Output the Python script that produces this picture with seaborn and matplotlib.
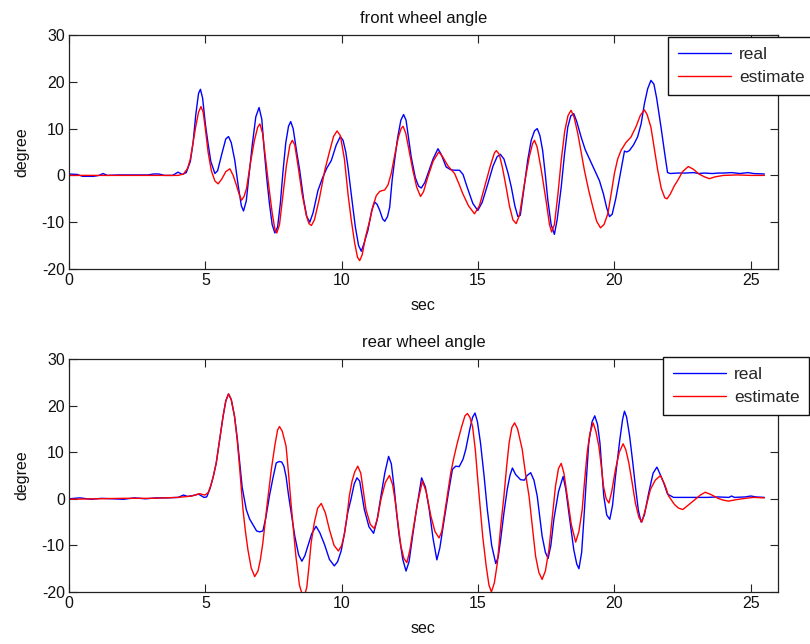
import numpy as np
import pandas as pd
import matplotlib
matplotlib.use("Agg")
import matplotlib.pyplot as plt
import seaborn as sns
from matplotlib.lines import Line2D

# ---- front wheel angle (time in s, angle in degree) ----
front_real = [
    (0, 0.3), (0.3, 0.2), (0.5, -0.2), (0.9, -0.2), (1.1, 0.0), (1.25, 0.4), (1.4, 0.0),
    (1.8, 0.1), (2.5, 0.1), (2.9, 0.1), (3.1, 0.3), (3.3, 0.3), (3.5, 0.0), (3.8, 0.0),
    (4.0, 0.7), (4.15, 0.2), (4.3, 0.6), (4.45, 3.0), (4.55, 7.0), (4.65, 13.0), (4.75, 17.5),
    (4.82, 18.4), (4.9, 16.5), (5.0, 11.0), (5.1, 6.8), (5.2, 3.0), (5.35, 0.4), (5.45, 1.0),
    (5.6, 4.5), (5.75, 7.8), (5.85, 8.3), (5.95, 7.0), (6.08, 3.2), (6.2, -2.0), (6.32, -6.5),
    (6.4, -7.6), (6.5, -5.5), (6.6, 0.0), (6.72, 6.5), (6.85, 12.5), (6.97, 14.5), (7.07, 12.0),
    (7.15, 6.0), (7.25, -0.5), (7.35, -6.0), (7.45, -10.5), (7.55, -12.3), (7.65, -11.0),
    (7.75, -6.0), (7.85, 1.0), (7.95, 7.0), (8.05, 10.5), (8.13, 11.5), (8.22, 10.0), (8.35, 5.0),
    (8.46, 1.1), (8.6, -5.0), (8.72, -8.8), (8.83, -10.0), (8.95, -8.0), (9.13, -3.2), (9.3, -0.5),
    (9.45, 1.5), (9.62, 3.2), (9.8, 6.5), (9.95, 8.3), (10.05, 7.5), (10.15, 5.0), (10.23, 1.8),
    (10.35, -4.0), (10.5, -11.0), (10.62, -15.0), (10.72, -16.2), (10.82, -14.5), (10.96, -11.8),
    (11.1, -7.5), (11.21, -5.7), (11.3, -6.2), (11.39, -7.4), (11.5, -9.3), (11.58, -9.8),
    (11.68, -8.8), (11.76, -6.8), (11.85, -1.0), (11.94, 3.2), (12.05, 8.0), (12.17, 11.8),
    (12.27, 13.0), (12.36, 11.8), (12.45, 8.0), (12.55, 3.9), (12.7, -0.5), (12.82, -2.3),
    (12.92, -2.7), (13.05, -1.5), (13.2, 1.0), (13.35, 3.5), (13.53, 5.7), (13.65, 4.5),
    (13.83, 1.8), (14.0, 1.2), (14.15, 1.1), (14.32, 1.1), (14.45, 0.2), (14.6, -2.5),
    (14.81, -6.0), (14.99, -7.5), (15.15, -5.8), (15.36, -1.8), (15.55, 2.0), (15.7, 4.0),
    (15.82, 4.5), (15.95, 3.5), (16.1, 0.5), (16.22, -2.5), (16.35, -6.5), (16.46, -8.8),
    (16.55, -8.5), (16.68, -3.0), (16.82, 3.2), (16.95, 7.5), (17.07, 9.5), (17.17, 10.0),
    (17.27, 8.5), (17.37, 5.3), (17.47, 0.0), (17.56, -5.3), (17.68, -10.5), (17.8, -12.6),
    (17.9, -9.5), (18.05, -2.5), (18.17, 4.5), (18.29, 10.3), (18.4, 12.7), (18.51, 13.2),
    (18.62, 11.5), (18.78, 8.2), (18.93, 5.5), (19.08, 3.6), (19.25, 1.5), (19.45, -1.1),
    (19.6, -4.0), (19.72, -7.0), (19.82, -8.8), (19.92, -8.3), (20.05, -5.0), (20.24, 1.1),
    (20.37, 5.2), (20.45, 5.0), (20.55, 5.3), (20.7, 6.5), (20.85, 8.2), (20.98, 11.0),
    (21.1, 15.3), (21.22, 18.5), (21.34, 20.3), (21.45, 19.5), (21.55, 16.5), (21.71, 10.3),
    (21.85, 4.5), (21.95, 0.6), (22.05, 0.4), (22.3, 0.5), (22.6, 0.5), (22.9, 0.6), (23.1, 0.4),
    (23.3, 0.5), (23.6, 0.4), (23.8, 0.5), (24.0, 0.5), (24.3, 0.6), (24.6, 0.4), (24.9, 0.6),
    (25.1, 0.4), (25.5, 0.3),
]

front_estimate = [
    (0, 0.0), (4.0, 0.0), (4.2, 0.3), (4.35, 1.5), (4.45, 3.5), (4.55, 7.0), (4.65, 10.5),
    (4.75, 13.5), (4.84, 14.7), (4.92, 13.5), (5.0, 10.0), (5.1, 5.0), (5.22, 1.0), (5.35, -1.2),
    (5.47, -1.8), (5.6, -0.8), (5.75, 0.8), (5.9, 1.4), (6.02, 0.0), (6.14, -2.1), (6.25, -4.2),
    (6.33, -5.3), (6.42, -4.5), (6.51, -2.8), (6.65, 2.5), (6.8, 7.5), (6.92, 10.3), (7.0, 11.0),
    (7.1, 9.0), (7.2, 4.0), (7.32, -2.0), (7.45, -8.0), (7.55, -11.5), (7.62, -12.3),
    (7.72, -10.5), (7.85, -4.0), (7.97, 2.0), (8.1, 6.5), (8.19, 7.5), (8.28, 6.5), (8.4, 2.0),
    (8.55, -4.0), (8.7, -8.5), (8.8, -10.3), (8.89, -10.7), (9.0, -9.5), (9.18, -5.0),
    (9.38, 1.1), (9.55, 5.0), (9.7, 8.3), (9.83, 9.5), (9.95, 8.5), (10.1, 3.5), (10.23, -3.9),
    (10.35, -9.5), (10.48, -14.6), (10.58, -17.5), (10.66, -18.2), (10.75, -17.0),
    (10.88, -13.0), (11.03, -9.6), (11.15, -6.5), (11.27, -4.3), (11.4, -3.4), (11.58, -3.1),
    (11.7, -2.0), (11.82, 0.5), (11.95, 4.5), (12.08, 8.2), (12.18, 10.0), (12.25, 10.5),
    (12.35, 9.0), (12.48, 5.0), (12.61, 1.1), (12.75, -2.5), (12.89, -4.5), (13.0, -3.5),
    (13.15, -0.5), (13.35, 3.0), (13.56, 5.0), (13.7, 4.0), (13.9, 2.0), (14.14, 0.4),
    (14.3, -1.8), (14.44, -3.9), (14.65, -6.5), (14.87, -8.2), (15.05, -6.5), (15.24, -2.5),
    (15.45, 2.0), (15.6, 4.8), (15.67, 5.3), (15.78, 4.5), (15.9, 1.5), (16.03, -2.5),
    (16.15, -6.5), (16.28, -9.5), (16.4, -10.3), (16.52, -8.5), (16.7, -1.8), (16.88, 4.0),
    (17.0, 6.8), (17.07, 7.5), (17.17, 6.0), (17.32, 1.1), (17.5, -5.6), (17.62, -10.5),
    (17.7, -12.1), (17.8, -10.5), (17.93, -4.0), (18.05, 3.2), (18.18, 9.5), (18.3, 12.8),
    (18.41, 13.9), (18.52, 12.5), (18.66, 8.9), (18.78, 5.0), (18.9, 1.1), (19.05, -3.0),
    (19.21, -6.8), (19.35, -9.8), (19.49, -11.2), (19.62, -10.5), (19.76, -8.2), (19.88, -4.0),
    (20.0, 0.4), (20.12, 3.5), (20.24, 5.3), (20.42, 7.0), (20.61, 8.2), (20.8, 10.5),
    (20.95, 12.8), (21.1, 14.0), (21.2, 13.0), (21.34, 10.3), (21.47, 5.5), (21.59, 1.1),
    (21.72, -2.8), (21.85, -4.8), (21.93, -5.0), (22.05, -4.0), (22.2, -2.2), (22.32, -1.1),
    (22.5, 0.8), (22.71, 1.9), (22.9, 1.3), (23.1, 0.3), (23.3, -0.3), (23.48, -0.7),
    (23.7, -0.3), (24.0, 0.0), (24.5, 0.1), (25.0, 0.0), (25.5, 0.0),
]

# ---- rear wheel angle (time in s, angle in degree) ----
rear_real = [
    (0, 0.0), (0.4, 0.2), (0.8, -0.1), (1.2, 0.1), (1.6, 0.0), (2.0, -0.1), (2.4, 0.2),
    (2.8, 0.0), (3.2, 0.2), (3.6, 0.2), (4.0, 0.3), (4.2, 0.8), (4.35, 0.5), (4.55, 0.7),
    (4.75, 1.0), (4.95, 0.3), (5.05, 0.4), (5.16, 2.0), (5.28, 4.5), (5.4, 7.7), (5.52, 12.5),
    (5.65, 17.7), (5.75, 21.0), (5.85, 22.5), (5.95, 21.3), (6.07, 17.7), (6.17, 13.0),
    (6.26, 7.7), (6.35, 2.5), (6.5, -2.3), (6.62, -4.3), (6.74, -5.5), (6.88, -6.9),
    (6.99, -7.1), (7.11, -6.9), (7.22, -4.0), (7.35, 0.6), (7.48, 4.5), (7.6, 7.7), (7.7, 8.0),
    (7.8, 7.9), (7.88, 7.0), (7.96, 4.8), (8.05, 0.8), (8.15, -3.0), (8.28, -8.0), (8.42, -12.0),
    (8.54, -13.4), (8.65, -12.2), (8.76, -10.1), (8.9, -7.5), (9.06, -5.9), (9.2, -7.3),
    (9.37, -9.8), (9.55, -13.0), (9.73, -14.4), (9.85, -13.5), (9.98, -11.2), (10.1, -7.5),
    (10.22, -3.0), (10.34, -0.1), (10.46, 3.2), (10.56, 4.5), (10.66, 3.8), (10.83, -2.3),
    (11.0, -6.0), (11.17, -7.4), (11.3, -4.5), (11.44, 0.6), (11.58, 5.5), (11.72, 9.1),
    (11.82, 7.5), (11.93, 2.0), (12.02, -3.5), (12.11, -8.0), (12.24, -13.0), (12.36, -15.5),
    (12.47, -13.5), (12.6, -8.0), (12.75, -2.0), (12.93, 4.5), (13.07, 2.5), (13.21, -2.3),
    (13.35, -8.5), (13.49, -13.1), (13.6, -10.5), (13.76, -4.4), (13.92, 1.5), (14.06, 6.3),
    (14.18, 7.0), (14.31, 6.9), (14.45, 8.5), (14.55, 10.6), (14.7, 15.0), (14.8, 17.5),
    (14.89, 18.4), (14.98, 16.5), (15.09, 12.0), (15.22, 5.0), (15.34, -2.3), (15.5, -10.0),
    (15.65, -13.9), (15.74, -12.5), (15.83, -8.7), (15.95, -3.0), (16.07, 2.0), (16.17, 5.0),
    (16.26, 6.6), (16.38, 5.2), (16.56, 4.1), (16.7, 4.0), (16.8, 5.0), (16.93, 5.6),
    (17.05, 4.0), (17.17, 0.6), (17.35, -8.0), (17.47, -11.5), (17.57, -12.8), (17.67, -10.0),
    (17.78, -4.4), (17.95, 1.5), (18.12, 4.8), (18.22, 2.0), (18.33, -3.0), (18.51, -10.9),
    (18.62, -14.0), (18.7, -15.0), (18.8, -11.5), (18.88, -4.4), (18.97, 4.0), (19.06, 12.0),
    (19.18, 16.5), (19.28, 17.8), (19.38, 16.0), (19.47, 12.0), (19.61, 0.6), (19.72, -3.5),
    (19.83, -4.4), (19.93, -1.5), (20.04, 4.8), (20.2, 12.7), (20.3, 17.0), (20.37, 18.8),
    (20.45, 17.5), (20.56, 13.4), (20.67, 8.0), (20.77, 2.7), (20.88, -2.5), (20.98, -5.0),
    (21.1, -3.5), (21.26, 1.3), (21.42, 5.5), (21.56, 6.8), (21.66, 5.5), (21.81, 3.4),
    (21.95, 1.0), (22.17, 0.3), (22.6, 0.3), (23.0, 0.3), (23.4, 0.3), (23.8, 0.4), (24.2, 0.3),
    (24.3, 0.6), (24.4, 0.3), (24.8, 0.4), (25.0, 0.6), (25.2, 0.4), (25.5, 0.3),
]

rear_estimate = [
    (0, -0.1), (1.0, 0.0), (2.0, 0.1), (3.0, 0.1), (4.0, 0.3), (4.5, 0.6), (4.79, 1.1),
    (4.98, 0.8), (5.1, 1.3), (5.2, 2.8), (5.3, 5.0), (5.4, 7.7), (5.52, 12.5), (5.65, 17.7),
    (5.75, 21.0), (5.85, 22.5), (5.95, 21.3), (6.07, 17.7), (6.17, 12.5), (6.26, 6.5),
    (6.38, -2.3), (6.47, -7.0), (6.56, -10.9), (6.68, -14.8), (6.81, -16.7), (6.93, -15.5),
    (7.02, -13.0), (7.11, -9.4), (7.25, -2.0), (7.42, 6.3), (7.55, 11.5), (7.65, 14.8),
    (7.72, 15.5), (7.82, 14.5), (7.96, 11.3), (8.05, 5.5), (8.14, -0.9), (8.23, -6.5),
    (8.32, -12.3), (8.45, -18.5), (8.6, -21.5), (8.72, -19.0), (8.8, -14.5), (8.88, -9.4),
    (9.0, -5.0), (9.12, -2.0), (9.25, -1.0), (9.4, -3.0), (9.55, -6.6), (9.72, -10.0),
    (9.88, -11.2), (10.0, -10.0), (10.1, -7.5), (10.2, -3.5), (10.28, 0.6), (10.38, 3.8),
    (10.48, 5.8), (10.59, 7.0), (10.7, 5.5), (10.89, -2.3), (11.05, -5.5), (11.2, -6.4),
    (11.32, -4.0), (11.44, -0.1), (11.6, 3.5), (11.75, 5.0), (11.87, 3.0), (11.99, -1.6),
    (12.08, -6.0), (12.17, -10.1), (12.28, -12.8), (12.39, -13.7), (12.5, -11.0), (12.6, -7.3),
    (12.78, -1.0), (12.96, 3.8), (13.1, 1.5), (13.27, -3.7), (13.42, -7.0), (13.57, -8.4),
    (13.67, -7.0), (13.76, -3.7), (13.88, 1.0), (14.0, 5.6), (14.12, 9.0), (14.24, 12.0),
    (14.4, 15.5), (14.52, 17.8), (14.61, 18.3), (14.7, 17.5), (14.8, 15.5), (14.9, 10.5),
    (14.99, 4.1), (15.08, -2.0), (15.17, -8.0), (15.3, -14.5), (15.4, -18.5), (15.49, -20.0),
    (15.6, -18.0), (15.71, -13.7), (15.83, -6.0), (15.95, 0.6), (16.05, 7.0), (16.14, 12.0),
    (16.24, 15.3), (16.34, 16.3), (16.45, 15.0), (16.62, 10.6), (16.75, 5.0), (16.87, 0.6),
    (17.0, -6.5), (17.11, -12.3), (17.23, -15.8), (17.35, -17.3), (17.47, -15.5), (17.6, -10.9),
    (17.72, -4.0), (17.84, 2.7), (17.95, 6.5), (18.05, 7.6), (18.15, 5.5), (18.27, 0.6),
    (18.42, -5.5), (18.58, -9.3), (18.7, -7.0), (18.82, -2.3), (18.91, 4.0), (19.0, 9.8),
    (19.1, 14.0), (19.22, 16.3), (19.32, 14.5), (19.43, 11.3), (19.52, 7.0), (19.6, 2.7),
    (19.7, 0.0), (19.8, -0.9), (19.9, 1.5), (20.04, 6.3), (20.18, 10.0), (20.32, 11.8),
    (20.42, 10.5), (20.53, 7.7), (20.65, 3.5), (20.77, -0.9), (20.9, -4.0), (21.01, -5.0),
    (21.15, -2.0), (21.32, 2.0), (21.5, 4.0), (21.69, 5.0), (21.85, 3.0), (21.99, 0.6),
    (22.2, -1.2), (22.35, -2.0), (22.51, -2.3), (22.7, -1.4), (22.97, -0.1), (23.15, 0.8),
    (23.33, 1.4), (23.55, 0.9), (23.8, 0.1), (24.0, -0.3), (24.19, -0.5), (24.45, -0.2),
    (24.8, 0.1), (25.1, 0.3), (25.5, 0.2),
]

series_names = ["real", "estimate"]
series_colors = {"real": "#0000ff", "estimate": "#ff0000"}
x_ticks = [0, 5, 10, 15, 20, 25]
y_ticks = [-20, -10, 0, 10, 20, 30]
panel_titles = ["front wheel angle", "rear wheel angle"]
x_label = "sec"
y_label = "degree"


def to_frame(real, estimate):
    parts = []
    for name, pts in zip(series_names, (real, estimate)):
        arr = np.array(pts, dtype=float)
        parts.append(pd.DataFrame({"t": arr[:, 0], "v": arr[:, 1], "series": name}))
    return pd.concat(parts, ignore_index=True)


sns.set_theme(style="white")
plt.rcParams["font.family"] = ["Liberation Sans", "DejaVu Sans"]
text_color = "#111111"

fig = plt.figure(figsize=(8.10, 6.44), dpi=100, facecolor="white")
axes = [fig.add_axes([69 / 810, 1 - 269 / 644, (778 - 69) / 810, (269 - 35) / 644]),
        fig.add_axes([69 / 810, 1 - 592 / 644, (778 - 69) / 810, (592 - 359) / 644])]
legend_anchor = [(668 / 810, 1 - 37 / 644), (663 / 810, 1 - 357 / 644)]
data = [to_frame(front_real, front_estimate), to_frame(rear_real, rear_estimate)]

for ax, df, title, anchor in zip(axes, data, panel_titles, legend_anchor):
    sns.lineplot(data=df, x="t", y="v", hue="series", hue_order=series_names,
                 palette=series_colors, estimator=None, sort=False, units="series",
                 linewidth=1.0, ax=ax, legend=False)
    ax.set_xlim(0, 26)
    ax.set_ylim(-20, 30)
    ax.set_xticks(x_ticks)
    ax.set_yticks(y_ticks)
    ax.set_xticklabels([str(v) for v in x_ticks], fontsize=11.5)
    ax.set_yticklabels([str(v) for v in y_ticks], fontsize=11.5)
    ax.tick_params(direction="in", length=6, width=0.8, color="#222222",
                   top=True, right=True, bottom=True, left=True, pad=3,
                   labelcolor=text_color)
    for sp in ax.spines.values():
        sp.set_color("#222222")
        sp.set_linewidth(0.9)
    ax.set_xlabel(x_label, fontsize=11.5, labelpad=7, color=text_color)
    ax.set_ylabel(y_label, fontsize=11.5, labelpad=9, color=text_color)
    ax.set_title(title, fontsize=12, pad=9, color=text_color)

    handles = [Line2D([], [], color=series_colors[n], linewidth=1.0) for n in series_names]
    leg = ax.legend(handles, series_names, loc="upper left", bbox_to_anchor=anchor,
                    bbox_transform=fig.transFigure, borderaxespad=0, fancybox=False,
                    framealpha=1, edgecolor="#111111", fontsize=12.5, handlelength=3.1,
                    handletextpad=0.45, labelspacing=0.48, borderpad=0.55)
    leg.get_frame().set_linewidth(1.0)

fig.savefig("out.png", dpi=100, facecolor="white")
